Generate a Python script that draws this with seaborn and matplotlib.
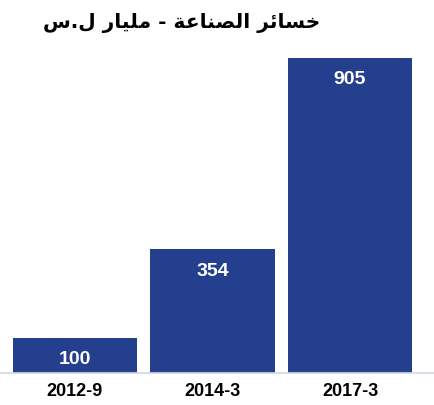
import matplotlib
matplotlib.use("Agg")
import pandas as pd
import matplotlib.pyplot as plt
import seaborn as sns

### chart data
periods = ["2012-9", "2014-3", "2017-3"]
losses = [100, 354, 905]
title_text = "خسائر الصناعة - مليار ل.س"

bar_color = "#253f8f"
axis_color = "#d4d4e6"

### matplotlib has no arabic shaping, so pick the presentation forms by hand
### (isolated, final, initial, medial)
forms = {
    "ا": ("\uFE8D", "\uFE8E", None, None),
    "ر": ("\uFEAD", "\uFEAE", None, None),
    "ة": ("\uFE93", "\uFE94", None, None),
    "خ": ("\uFEA5", "\uFEA6", "\uFEA7", "\uFEA8"),
    "س": ("\uFEB1", "\uFEB2", "\uFEB3", "\uFEB4"),
    "ئ": ("\uFE89", "\uFE8A", "\uFE8B", "\uFE8C"),
    "ل": ("\uFEDD", "\uFEDE", "\uFEDF", "\uFEE0"),
    "ص": ("\uFEB9", "\uFEBA", "\uFEBB", "\uFEBC"),
    "ن": ("\uFEE5", "\uFEE6", "\uFEE7", "\uFEE8"),
    "ع": ("\uFEC9", "\uFECA", "\uFECB", "\uFECC"),
    "م": ("\uFEE1", "\uFEE2", "\uFEE3", "\uFEE4"),
    "ي": ("\uFEF1", "\uFEF2", "\uFEF3", "\uFEF4"),
}

def shape_arabic(s):
    out = []
    for i, ch in enumerate(s):
        if ch not in forms:
            out.append(ch)
            continue
        prev = s[i - 1] if i > 0 else ""
        nxt = s[i + 1] if i < len(s) - 1 else ""
        joins_prev = prev in forms and forms[prev][2] is not None
        joins_next = nxt in forms and forms[ch][2] is not None
        iso, fin, ini, med = forms[ch]
        if joins_prev and joins_next:
            out.append(med)
        elif joins_prev:
            out.append(fin)
        elif joins_next:
            out.append(ini)
        else:
            out.append(iso)
    return "".join(out)[::-1]

df = pd.DataFrame({"period": periods, "loss": losses})

sns.set_style("white")
plt.rcParams["font.family"] = ["Liberation Sans", "DejaVu Sans"]

fig = plt.figure(figsize=(4.35, 4.06), dpi=100)
ax = fig.add_axes([0.0, 0.08, 1.0, 0.797])

sns.barplot(data=df, x="period", y="loss", color=bar_color, width=0.905,
            saturation=1, linewidth=0, ax=ax)

### value labels inside the bars
for i, v in enumerate(losses):
    ax.annotate(str(v), (i, v), xytext=(0, -21), textcoords="offset pixels",
                ha="center", va="center", color="white", fontsize=14,
                fontweight="bold")

ax.set_xlim(-0.545, 2.618)
ax.set_ylim(0, 931)
ax.set_xlabel("")
ax.set_ylabel("")
ax.set_yticks([])
ax.tick_params(axis="x", length=0, pad=7, labelsize=13, labelcolor="black")
for lbl in ax.get_xticklabels():
    lbl.set_fontweight("bold")

for side in ["left", "top", "right"]:
    ax.spines[side].set_visible(False)
ax.spines["bottom"].set_color(axis_color)
ax.spines["bottom"].set_linewidth(1.2)

fig.text(0.418, 1 - 23 / 406, shape_arabic(title_text), ha="center",
         va="center", fontsize=14.5, fontweight="bold", color="black",
         family="DejaVu Sans")

plt.savefig("out.png", dpi=100)
